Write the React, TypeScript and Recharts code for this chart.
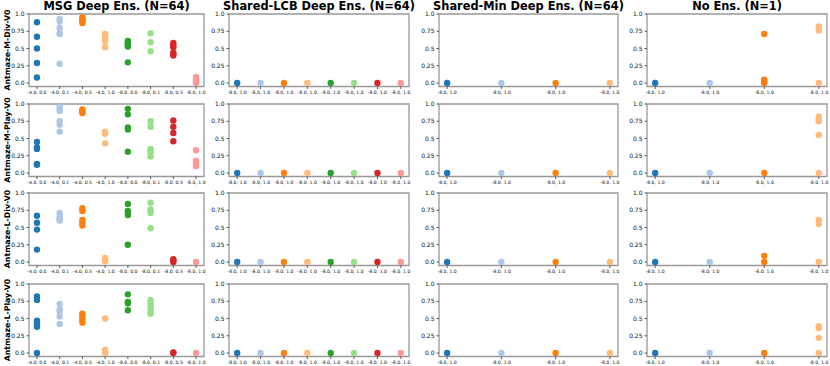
import React from "react";
import { ScatterChart, Scatter, XAxis, YAxis, ReferenceArea } from "recharts";

const colors = ["#1f77b4", "#aec7e8", "#ff7f0e", "#ffbb78", "#2ca02c", "#98df8a", "#d62728", "#ff9896"];

const titles = ["MSG Deep Ens. (N=64)", "Shared-LCB Deep Ens. (N=64)", "Shared-Min Deep Ens. (N=64)", "No Ens. (N=1)"];
const rowLabels = ["Antmaze-M-Div-V0", "Antmaze-M-Play-V0", "Antmaze-L-Div-V0", "Antmaze-L-Play-V0"];

const msgLabels = ["-4.0, 0.0", "-4.0, 0.1", "-4.0, 0.5", "-4.0, 1.0", "-8.0, 0.0", "-8.0, 0.1", "-8.0, 0.5", "-8.0, 1.0"];
const lcbLabels = ["-8.0, 1.0", "-8.0, 1.0", "-8.0, 1.0", "-8.0, 1.0", "-8.0, 1.0", "-8.0, 1.0", "-8.0, 1.0", "-8.0, 1.0"];
const minLabels = ["-8.0, 1.0", "-8.0, 1.0", "-8.0, 1.0", "-8.0, 1.0"];
const noEnsLabels = ["-8.0, 1.0", "-8.0, 1.0", "-8.0, 1.0", "-8.0, 1.0"];

const yTicks = [0, 0.25, 0.5, 0.75, 1.0];

// MSG Deep Ens.
const msgMDiv = [
  [0.88, 0.67, 0.5, 0.29, 0.08],
  [0.93, 0.89, 0.8, 0.73, 0.71, 0.28],
  [0.95, 0.93, 0.91, 0.89, 0.87],
  [0.71, 0.67, 0.63, 0.6, 0.52],
  [0.61, 0.59, 0.57, 0.55, 0.53, 0.3],
  [0.72, 0.59, 0.46],
  [0.58, 0.55, 0.52, 0.44, 0.42, 0.4],
  [0.09, 0.06, 0.04, 0.02, 0.0],
];
const msgMPlay = [
  [0.45, 0.37, 0.35, 0.13, 0.12],
  [0.97, 0.93, 0.9, 0.75, 0.7, 0.6],
  [0.92, 0.9, 0.88, 0.87],
  [0.6, 0.57, 0.43],
  [0.93, 0.85, 0.66, 0.63, 0.31],
  [0.75, 0.67, 0.35, 0.32, 0.3, 0.24],
  [0.76, 0.67, 0.58, 0.46],
  [0.33, 0.18, 0.15, 0.12, 0.1],
];
const msgLDiv = [
  [0.67, 0.57, 0.47, 0.18],
  [0.71, 0.68, 0.65, 0.62, 0.6],
  [0.78, 0.74, 0.61, 0.57, 0.53],
  [0.06, 0.03, 0.01],
  [0.84, 0.74, 0.71, 0.68, 0.25],
  [0.86, 0.76, 0.74, 0.71, 0.49],
  [0.04, 0.02, 0.0],
  [0.0],
];
const msgLPlay = [
  [0.82, 0.77, 0.47, 0.44, 0.41, 0.38, 0.0],
  [0.71, 0.63, 0.6, 0.53, 0.42],
  [0.57, 0.54, 0.5, 0.47, 0.44],
  [0.5, 0.05, 0.02, 0.0],
  [0.85, 0.74, 0.72, 0.62],
  [0.77, 0.72, 0.68, 0.64, 0.6, 0.57],
  [0.01, 0.0],
  [0.0],
];

// Shared-LCB Deep Ens.
const lcbMDiv = [[0], [0], [0], [0], [0], [0], [0], [0]];
const lcbMPlay = [[0], [0], [0], [0], [0], [0], [0], [0]];
const lcbLDiv = [[0], [0], [0], [0], [0], [0], [0], [0]];
const lcbLPlay = [[0], [0], [0], [0], [0], [0], [0], [0]];

// Shared-Min Deep Ens.
const minMDiv = [[0], [0], [0], [0]];
const minMPlay = [[0], [0], [0], [0]];
const minLDiv = [[0], [0], [0], [0]];
const minLPlay = [[0], [0], [0], [0]];

// No Ens.
const noEnsMDiv = [[0], [0], [0.71, 0.05, 0.03, 0.01, 0.0], [0.82, 0.79, 0.76, 0.0]];
const noEnsMPlay = [[0], [0], [0], [0.82, 0.78, 0.75, 0.55, 0.0]];
const noEnsLDiv = [[0], [0], [0.09, 0.0], [0.61, 0.55, 0.0]];
const noEnsLPlay = [[0], [0], [0], [0.39, 0.36, 0.22, 0.0]];

const grid = [
  [msgMDiv, lcbMDiv, minMDiv, noEnsMDiv],
  [msgMPlay, lcbMPlay, minMPlay, noEnsMPlay],
  [msgLDiv, lcbLDiv, minLDiv, noEnsLDiv],
  [msgLPlay, lcbLPlay, minLPlay, noEnsLPlay],
];
const colLabels = [msgLabels, lcbLabels, minLabels, noEnsLabels];

const colLeft = [29, 229, 439, 647];
const colWidth = [175, 180, 179, 180];
const rowTop = [14, 104, 193, 284];
const plotH = 72.5;

const YW = 28;
const MT = 4;
const MR = 3;
const XH = 12;

const fmtY = (v: number) => (v === 0 ? "0.0" : v === 1 ? "1.0" : String(v));

function Panel({ left, top, width, labels, values }: any) {
  const n = labels.length;
  const lo = -0.05 * (n - 1);
  const hi = (n - 1) * 1.05;
  const idx = labels.map((_: string, i: number) => i);
  return (
    <div style={{ position: "absolute", left: left - YW, top: top - MT }}>
      <ScatterChart
        width={YW + width + MR}
        height={MT + plotH + XH}
        margin={{ top: MT, right: MR, bottom: 0, left: 0 }}
      >
        <XAxis
          dataKey="x"
          type="number"
          domain={[lo, hi]}
          ticks={idx}
          interval={0}
          allowDataOverflow
          tickFormatter={(v: number) => labels[v]}
          height={XH}
          axisLine={false}
          tickLine={{ stroke: "#333", strokeWidth: 0.8 }}
          tickSize={2.5}
          tick={{ fontSize: 4.6, fill: "#111", fontFamily: "DejaVu Sans" }}
        />
        <YAxis
          dataKey="y"
          type="number"
          domain={[-0.05, 1]}
          ticks={yTicks}
          interval={0}
          allowDataOverflow
          tickFormatter={fmtY}
          width={YW}
          axisLine={false}
          tickLine={{ stroke: "#333", strokeWidth: 0.8 }}
          tickSize={2.5}
          tick={{ fontSize: 6, fill: "#111", fontFamily: "DejaVu Sans" }}
        />
        <ReferenceArea x1={lo} x2={hi} y1={-0.05} y2={1} fill="none" stroke="#999" strokeWidth={1.3} />
        {values.map((vals: number[], i: number) => (
          <Scatter
            key={i}
            data={vals.map((v) => ({ x: i, y: v }))}
            fill={colors[i]}
            isAnimationActive={false}
            shape={(p: any) => <circle cx={p.cx} cy={p.cy} r={3.2} fill={colors[i]} />}
          />
        ))}
      </ScatterChart>
    </div>
  );
}

export default function App() {
  return (
    <div
      style={{
        position: "absolute",
        left: 0,
        top: 0,
        width: 830,
        height: 366,
        background: "#fff",
        fontFamily: "DejaVu Sans",
        overflow: "hidden",
      }}
    >
      {titles.map((t, c) => (
        <div
          key={t}
          style={{
            position: "absolute",
            left: colLeft[c] + colWidth[c] / 2 - 150,
            width: 300,
            top: 0,
            textAlign: "center",
            fontWeight: "bold",
            fontSize: 11.4,
            lineHeight: "12px",
            whiteSpace: "nowrap",
            color: "#000",
          }}
        >
          {t}
        </div>
      ))}
      {rowLabels.map((r, ri) => (
        <div
          key={r}
          style={{
            position: "absolute",
            left: 8 - 60,
            top: rowTop[ri] + plotH / 2 - 5,
            width: 120,
            height: 10,
            lineHeight: "10px",
            textAlign: "center",
            fontWeight: "bold",
            fontSize: 7.8,
            whiteSpace: "nowrap",
            transform: "rotate(-90deg)",
            color: "#000",
          }}
        >
          {r}
        </div>
      ))}
      {grid.map((row, ri) =>
        row.map((vals, ci) => (
          <Panel
            key={`${ri}-${ci}`}
            left={colLeft[ci]}
            top={rowTop[ri]}
            width={colWidth[ci]}
            labels={colLabels[ci]}
            values={vals}
          />
        ))
      )}
    </div>
  );
}
